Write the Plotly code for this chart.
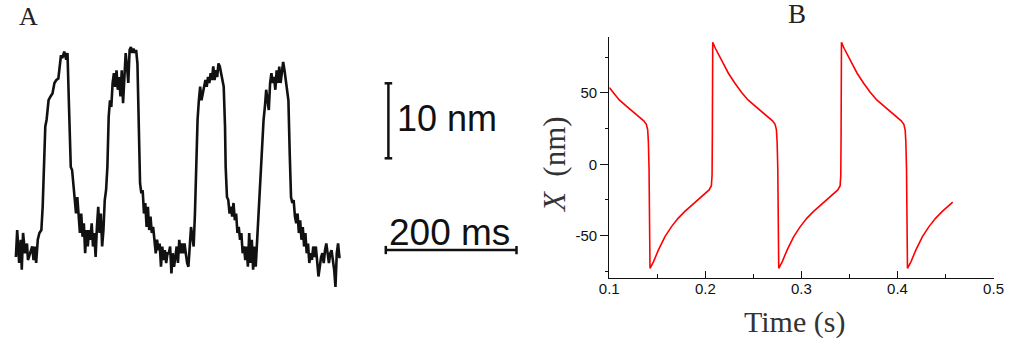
import plotly.graph_objects as go

# ---------------- Panel A: measured bundle displacement (noisy trace) ----------------
A_TIME_MS = [
    0, 2, 5, 7.5, 9, 11, 14, 17, 18.5, 22, 25, 27, 29, 31, 33.5, 36, 39, 41, 43, 45,
    47, 50, 53, 56, 59, 62, 65, 67, 69, 71, 74, 77, 79, 81, 82.5,
    84, 86, 88, 90, 92, 94, 96, 98, 100, 102, 104, 106, 108, 110, 112, 114, 116, 118,
    120, 122, 124, 126, 128, 130, 132, 134, 136, 138, 140, 142, 144, 146, 148, 150,
    152, 154, 156, 158, 160, 162, 164, 166, 168, 170, 172, 174, 176, 178, 180, 182,
    184, 186, 188, 190, 192, 194, 196, 198, 200, 202, 204, 206, 208, 210, 212, 214,
    216, 218, 220, 222, 224, 226, 228, 230, 232, 234, 236, 238, 240, 242, 244, 246,
    248, 250, 252, 254, 256, 258, 260, 262, 264, 266, 268, 270, 272, 274, 276, 278,
    280, 282, 284, 286, 288, 290, 292, 294, 296, 298, 300, 302, 304, 306, 308, 310,
    312, 314, 316, 318, 320,
    321, 323, 325, 327, 329, 331, 333, 335, 337, 339, 341, 343, 345, 347, 349, 351,
    353, 355, 357, 359, 361, 363, 365, 367, 369, 371, 373, 375, 377, 379, 381, 383,
    385, 387, 389, 391, 393, 395, 397, 399, 401, 403, 405, 407, 409, 411, 413, 415,
    417, 419, 421, 423, 425, 427, 429, 431, 433, 435, 437, 439, 441, 443, 445, 447,
    449, 451, 453, 455, 457, 459, 461, 463, 465, 467, 469, 471, 473, 475, 477, 479,
    481, 483, 485, 487, 489, 491, 493, 495, 497,
]
A_DISP_NM = [
    0.0, 3.6, -0.8, 2.3, -1.7, 3.2, 0.5, 1.8, -0.4, 0.5, 1.4, -0.4, 1.4, -0.8, 2.3, 3.2, 3.6, 6.7, 11.2, 17.4,
    18.3, 20.9, 21.4, 21.8, 23.2, 23.6, 23.8, 25.4, 26.9, 26.5, 27.4, 26.3, 27.2, 20.9, 15.2,
    12.0, 11.6, 9.4, 7.6, 5.8, 8.0, 5.4, 3.2, 5.8, 2.7, 4.5, 0.5, 3.6, 1.4, 3.6, 2.3, 4.5, 1.4,
    3.2, 0.0, 4.0, 6.7, 3.2, 5.8, 1.4, 3.6, 7.6, 8.9, 12.0, 18.7, 20.9, 20.0, 23.2, 24.5,
    22.7, 24.9, 22.3, 24.0, 21.4, 24.9, 20.5, 23.2, 27.2, 25.4, 23.2, 27.6, 28.0, 27.2, 27.8, 27.2,
    27.6, 25.8, 16.5, 9.8, 8.5, 8.9, 5.8, 7.2, 4.0, 6.7, 3.6, 5.4, 3.2, 4.0, 2.3, 0.5,
    2.3, 0.9, 1.8, -1.3, 1.4, -0.4, 0.9, -0.8, 0.5, 0.5, 1.4, -2.2, 0.5, -1.3, 0.0, 1.4,
    -0.8, 2.3, 0.5, 1.8, 0.5, 1.8, 0.5, -0.8, -1.3, 2.3, 4.0, 2.7, 1.4, 5.8, 12.9, 18.3,
    20.9, 22.7, 20.9, 21.8, 22.3, 23.6, 22.7, 24.0, 23.2, 24.5, 23.6, 25.4, 23.6, 24.9, 24.0, 25.8,
    25.4, 24.5, 23.6, 22.7, 17.4,
    12.0, 8.0, 7.6, 5.8, 6.7, 5.4, 7.2, 4.9, 5.8, 3.2, 4.0, 2.3, 3.2, 0.5, 1.4, -0.4,
    1.4, -1.3, 3.2, -0.8, 2.3, -1.7, 1.4, -1.3, 2.3, 4.0, 7.6, 12.9, 14.7, 18.3, 20.0, 22.3,
    20.9, 19.6, 23.2, 24.5, 23.2, 24.0, 22.3, 24.9, 23.2, 25.4, 23.2, 24.5, 26.0, 24.9, 23.6, 22.3,
    20.9, 13.8, 8.0, 7.2, 7.6, 5.4, 4.5, 5.8, 3.2, 4.9, 2.3, 4.0, 1.4, 3.2, 0.5, 1.8,
    -0.8, 0.5, -0.4, 1.4, 0.0, 1.4, -0.8, -2.6, -1.3, 0.0, 0.5, -0.8, 0.9, 1.8, 0.5, -0.8,
    0.5, 0.9, -0.4, -1.7, -4.0, 0.5, 1.8, 0.0, 0.0,
]

# Scale bars for panel A
SCALE_TIME_MS = 200
SCALE_DISP_NM = 10

# ---------------- Panel B: model relaxation oscillation ----------------
B_TIME_S = [
    0.1000, 0.1036, 0.1104, 0.1172, 0.1240, 0.1308, 0.1359, 0.1386, 0.1400, 0.1407, 0.1414, 0.1424,
    0.1461, 0.1512, 0.1580, 0.1648, 0.1716, 0.1784, 0.1852, 0.1920, 0.1988, 0.2039, 0.2063, 0.2070, 0.2073, 0.2077,
    0.2104, 0.2172, 0.2240, 0.2308, 0.2376, 0.2444, 0.2512, 0.2580, 0.2648, 0.2699, 0.2726, 0.2740, 0.2747, 0.2754, 0.2764,
    0.2801, 0.2852, 0.2920, 0.2988, 0.3056, 0.3124, 0.3192, 0.3260, 0.3328, 0.3379, 0.3403, 0.3410, 0.3413, 0.3417,
    0.3444, 0.3512, 0.3580, 0.3648, 0.3716, 0.3784, 0.3852, 0.3920, 0.3988, 0.4039, 0.4066, 0.4080, 0.4087, 0.4094, 0.4104,
    0.4141, 0.4192, 0.4260, 0.4328, 0.4396, 0.4464, 0.4532, 0.4575,
]
B_X_NM = [
    53.8, 50.5, 45.1, 41.1, 37.4, 33.4, 30.4, 28.0, 24.1, 15.9, -2.8, -72.9,
    -68.2, -60.0, -50.7, -43.7, -37.9, -33.2, -29.0, -25.0, -21.0, -18.0, -15.0, -7.5, 20.6, 85.5,
    81.3, 72.0, 63.8, 56.8, 50.5, 45.1, 41.1, 37.4, 33.4, 30.4, 28.0, 24.1, 15.9, -2.8, -72.9,
    -68.2, -60.0, -50.7, -43.7, -37.9, -33.2, -29.0, -25.0, -21.0, -18.0, -15.0, -7.5, 20.6, 85.5,
    81.3, 72.0, 63.8, 56.8, 50.5, 45.1, 41.1, 37.4, 33.4, 30.4, 28.0, 24.1, 15.9, -2.8, -72.9,
    -68.2, -60.0, -50.7, -43.7, -37.9, -33.2, -29.0, -26.5,
]
B_XTICKS = [0.1, 0.2, 0.3, 0.4, 0.5]
B_XTICK_LABELS = ["0.1", "0.2", "0.3", "0.4", "0.5"]
B_XMINOR = [0.15, 0.25, 0.35, 0.45]
B_YTICKS = [-50, 0, 50]
B_YTICK_LABELS = ["-50", "0", "50"]
B_YMINOR = [-75, -25, 25, 75]

W, H = 1016, 345
SANS = "Liberation Sans, Arial, sans-serif"
SERIF = "Liberation Serif, Times New Roman, serif"

fig = go.Figure()

fig.add_trace(go.Scatter(
    x=A_TIME_MS, y=A_DISP_NM, xaxis="x2", yaxis="y2", mode="lines",
    line=dict(color="#111111", width=2.6), hoverinfo="skip",
))
fig.add_trace(go.Scatter(
    x=B_TIME_S, y=B_X_NM, xaxis="x", yaxis="y", mode="lines",
    line=dict(color="#ff0000", width=1.6), hoverinfo="skip",
))

# Scale bars (drawn in panel A data units)
bar_t0 = 566.0          # left end of time bar, ms
bar_x_level = 0.93      # height of time bar, nm
vbar_t = 570.0          # position of displacement bar, ms
vbar_top = 23.16        # top of displacement bar, nm
cap_t = 5.8             # half-width of bar caps, ms
cap_x = 0.55            # half-height of bar caps, nm
bar_line = dict(color="#111111", width=2.5)
shapes = [
    dict(type="line", xref="x2", yref="y2", x0=bar_t0, x1=bar_t0 + SCALE_TIME_MS,
         y0=bar_x_level, y1=bar_x_level, line=bar_line),
    dict(type="line", xref="x2", yref="y2", x0=bar_t0, x1=bar_t0,
         y0=bar_x_level - cap_x, y1=bar_x_level + cap_x, line=bar_line),
    dict(type="line", xref="x2", yref="y2", x0=bar_t0 + SCALE_TIME_MS, x1=bar_t0 + SCALE_TIME_MS,
         y0=bar_x_level - cap_x, y1=bar_x_level + cap_x, line=bar_line),
    dict(type="line", xref="x2", yref="y2", x0=vbar_t, x1=vbar_t,
         y0=vbar_top - SCALE_DISP_NM, y1=vbar_top, line=bar_line),
    dict(type="line", xref="x2", yref="y2", x0=vbar_t - cap_t, x1=vbar_t + cap_t,
         y0=vbar_top, y1=vbar_top, line=bar_line),
    dict(type="line", xref="x2", yref="y2", x0=vbar_t - cap_t, x1=vbar_t + cap_t,
         y0=vbar_top - SCALE_DISP_NM, y1=vbar_top - SCALE_DISP_NM, line=bar_line),
]

annotations = [
    dict(text=f"{SCALE_DISP_NM} nm", xref="x2", yref="y2", x=580, y=18.53,
         xanchor="left", yanchor="middle", showarrow=False,
         font=dict(family=SANS, size=36, color="#111111")),
    dict(text=f"{SCALE_TIME_MS} ms", xref="x2", yref="y2", x=bar_t0 + SCALE_TIME_MS / 2 - 2, y=3.33,
         xanchor="center", yanchor="middle", showarrow=False,
         font=dict(family=SANS, size=37, color="#111111")),
    dict(text="A", xref="paper", yref="paper", x=19 / W, y=1 - 17 / H,
         xanchor="center", yanchor="middle", showarrow=False,
         font=dict(family=SERIF, size=26, color="#222222")),
    dict(text="B", xref="paper", yref="paper", x=803 / W, y=1 - 14 / H,
         xanchor="center", yanchor="middle", showarrow=False,
         font=dict(family=SERIF, size=27, color="#222222")),
    dict(text="Time (s)", xref="paper", yref="paper", x=800 / W, y=1 - 322 / H,
         xanchor="center", yanchor="middle", showarrow=False,
         font=dict(family=SERIF, size=30, color="#333333")),
    dict(text="<i>X</i>\u00a0\u00a0(nm)", xref="paper", yref="paper", x=555 / W, y=1 - 165 / H,
         xanchor="center", yanchor="middle", showarrow=False, textangle=-90,
         font=dict(family=SERIF, size=31, color="#333333")),
]

fig.update_layout(
    width=W, height=H,
    margin=dict(l=0, r=0, t=0, b=0),
    paper_bgcolor="white", plot_bgcolor="white",
    showlegend=False,
    xaxis=dict(
        domain=[611.3 / W, 1003.3 / W], range=[0.1, 0.5], anchor="y",
        tickmode="array", tickvals=B_XTICKS, ticktext=B_XTICK_LABELS,
        ticks="inside", ticklen=7, tickwidth=1.2, tickcolor="#111111",
        minor=dict(tickmode="array", tickvals=B_XMINOR, ticks="inside", ticklen=4,
                   tickwidth=1.2, tickcolor="#111111", showgrid=False),
        showline=True, linecolor="#111111", linewidth=1.3,
        showgrid=False, zeroline=False, ticklabelstandoff=-3,
        tickfont=dict(family=SANS, size=15, color="#111111"),
    ),
    yaxis=dict(
        domain=[(H - 277.7) / H, (H - 36.7) / H], range=[-79.5, 89.4], anchor="x",
        tickmode="array", tickvals=B_YTICKS, ticktext=B_YTICK_LABELS,
        ticks="outside", ticklen=8, tickwidth=1.2, tickcolor="#111111",
        minor=dict(tickmode="array", tickvals=B_YMINOR, ticks="outside", ticklen=3,
                   tickwidth=1.2, tickcolor="#111111", showgrid=False),
        showline=True, linecolor="#111111", linewidth=1.3,
        showgrid=False, zeroline=False,
        tickfont=dict(family=SANS, size=15, color="#111111"),
    ),
    xaxis2=dict(domain=[0, 0.55], range=[-9, -9 + 0.55 * W * 1.5], anchor="y2", visible=False),
    yaxis2=dict(domain=[0, 1], range=[-(H - 257) / 7.5, 257 / 7.5], anchor="x2", visible=False),
    shapes=shapes,
    annotations=annotations,
)

fig.write_html("out.html")
